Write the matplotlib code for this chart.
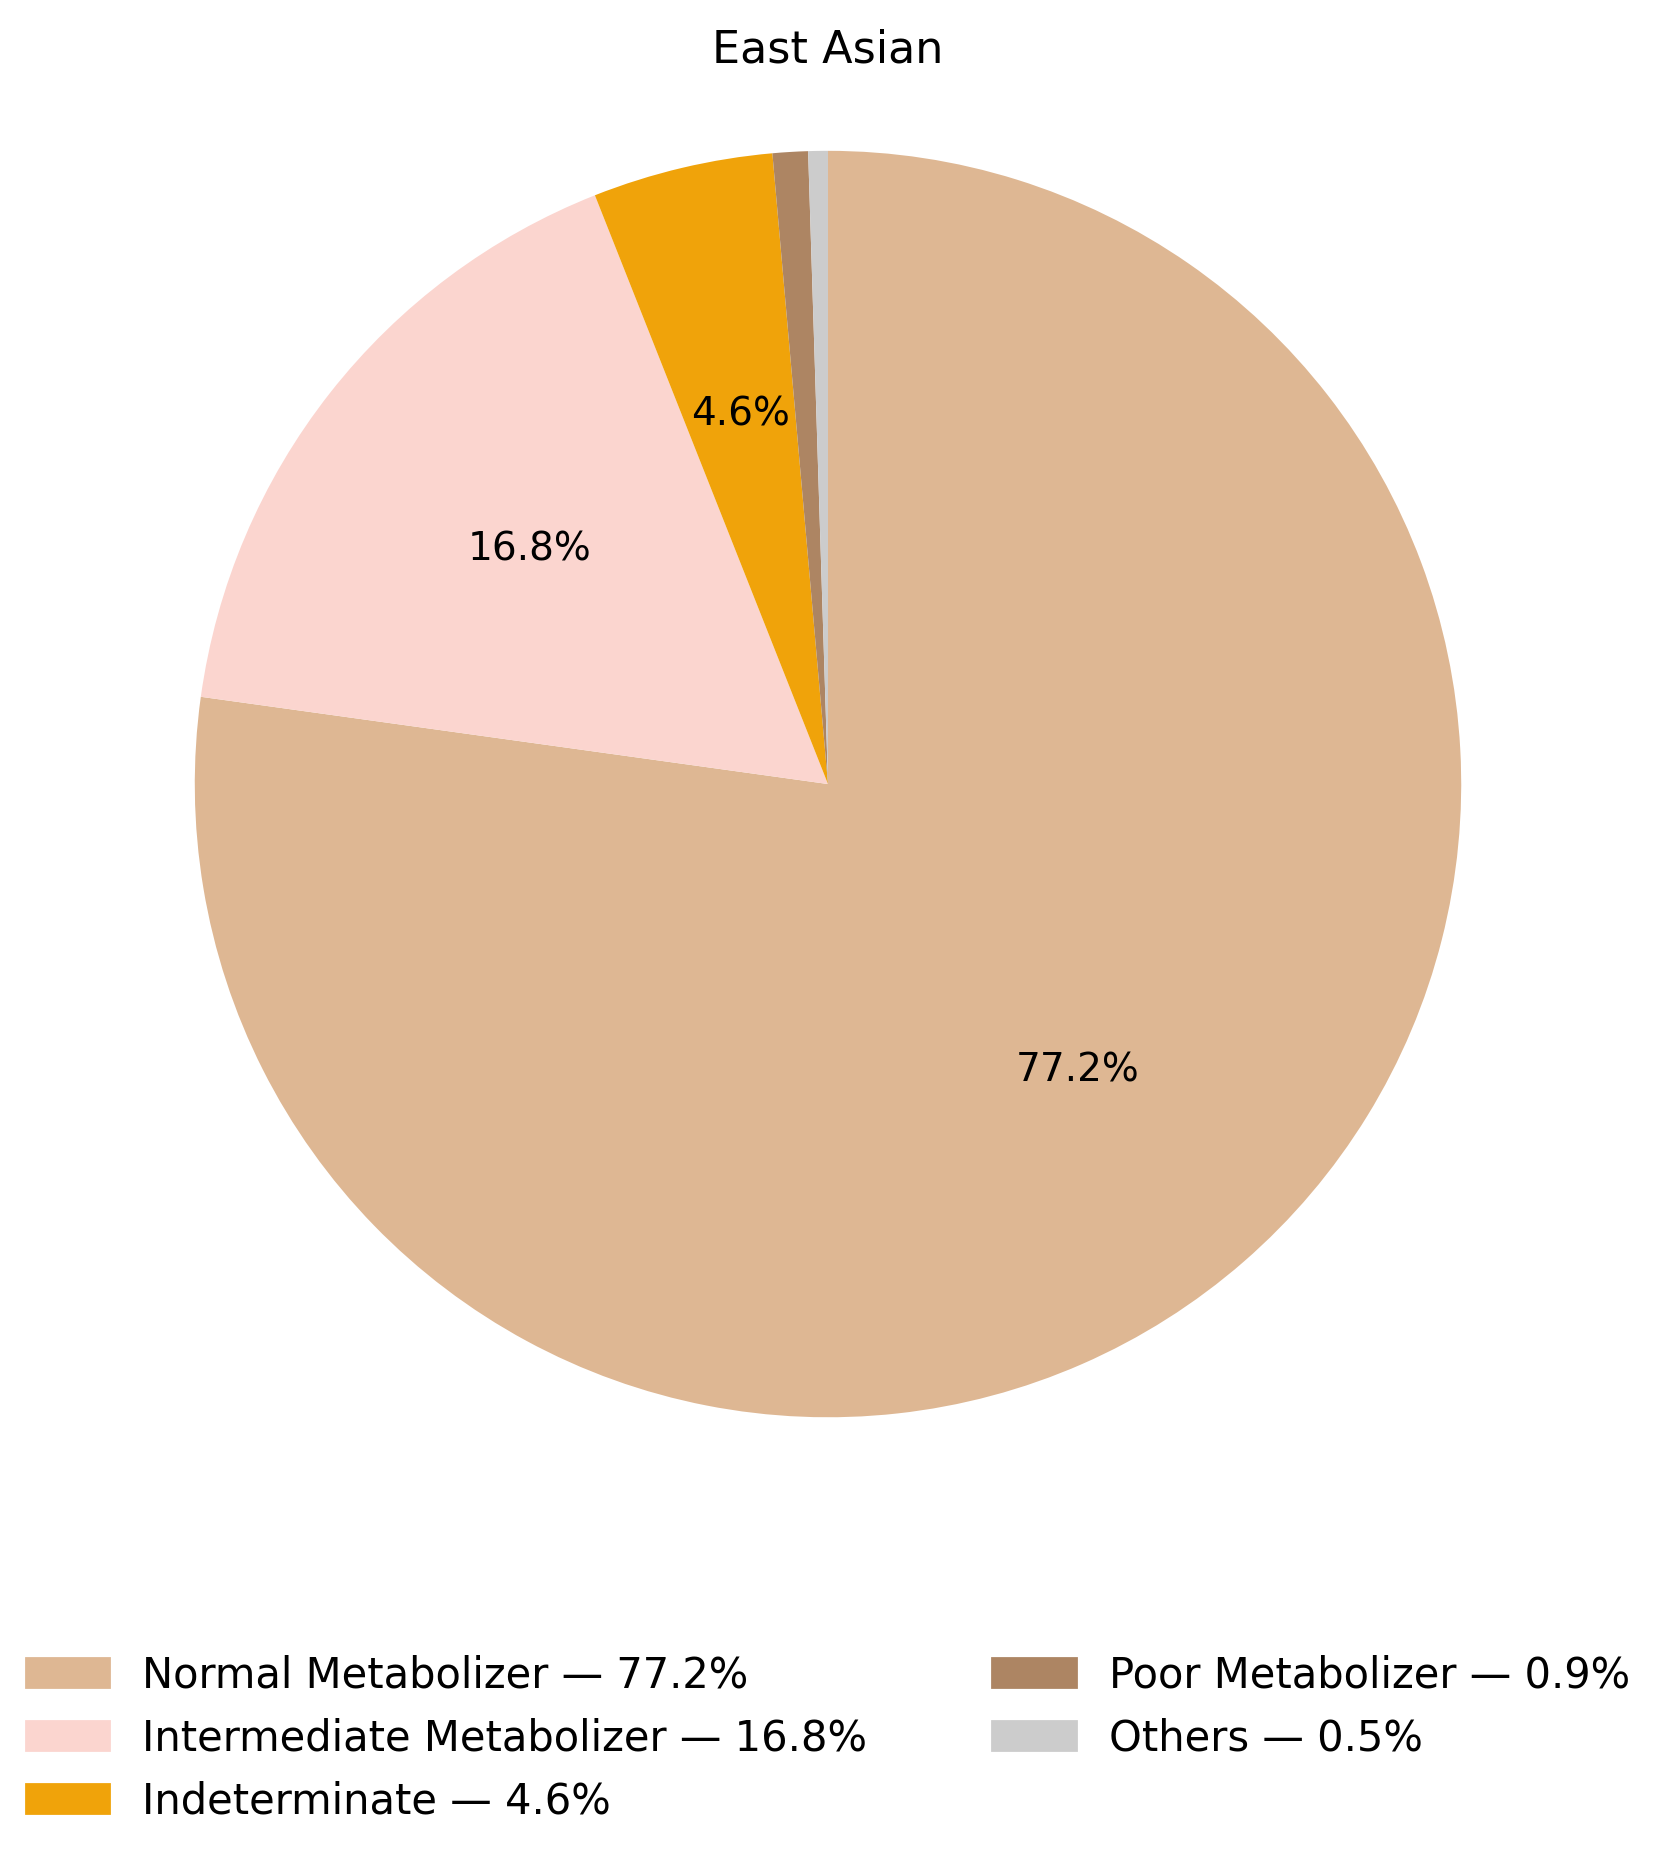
import matplotlib.pyplot as plt

labels = ["Normal Metabolizer", "Intermediate Metabolizer", "Indeterminate",
          "Poor Metabolizer", "Others"]
values = [77.2, 16.8, 4.6, 0.9, 0.5]
colors = ["#DEB793", "#FBD5CF", "#F0A30A", "#AD8563", "#CCCCCC"]

fig = plt.figure(figsize=(8.28, 9.345), dpi=200)
ax = fig.add_axes([0.02, 0.157, 0.96, 0.847])
ax.pie(values, colors=colors, startangle=90, counterclock=False,
       autopct=lambda p: f"{p:.1f}%" if p >= 1 else "",
       textprops={"fontsize": 14})
ax.set_aspect("equal")
fig.suptitle("East Asian", fontsize=16, y=0.985)

leg_labels = [f"{l} — {v}%" for l, v in zip(labels, values)]
handles = [plt.Rectangle((0, 0), 1, 1, color=c) for c in colors]
fig.legend(handles, leg_labels, loc="lower center", ncol=2, frameon=False,
           fontsize=15, bbox_to_anchor=(0.5, 0.005), columnspacing=3.0)

fig.savefig("out.png")
